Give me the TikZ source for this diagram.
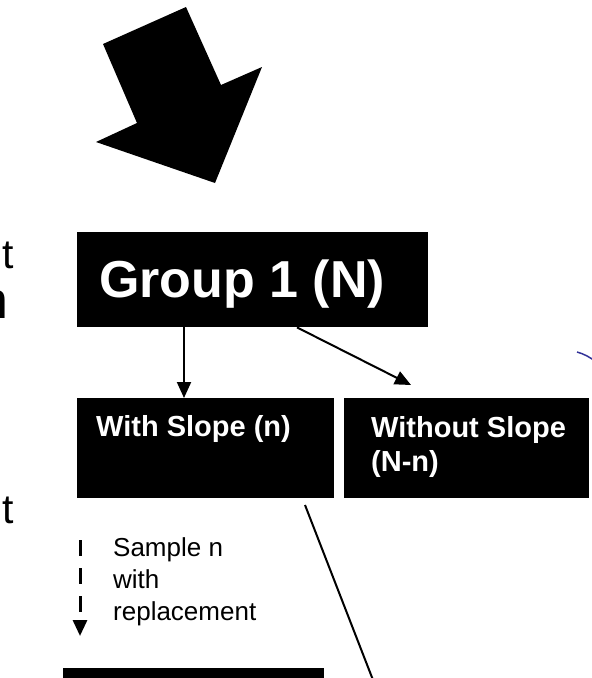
\documentclass[tikz,border=0pt]{standalone}
\usepackage{fontspec}
\setmainfont{Liberation Sans}
\usetikzlibrary{arrows.meta}

\definecolor{curveblue}{RGB}{51,51,153}

\tikzset{
  blackbox/.style={fill=black, draw=none, inner sep=0pt, anchor=north west},
  boxlabel/.style={text=white, font=\bfseries\fontsize{29}{34}\selectfont, anchor=base west, inner sep=0pt, align=left},
  sidelabel/.style={font=\fontsize{26}{32}\selectfont, anchor=base west, inner sep=0pt, align=left},
  cuttext/.style={font=\fontsize{41}{49}\selectfont, anchor=base east, inner sep=0pt},
  arr/.style={line width=2pt, -{Triangle[width=14pt,length=16pt]}},
}

\begin{document}
\begin{tikzpicture}[x=1pt, y=-1pt]
 \useasboundingbox (0,0) rectangle (592,678);
 \clip (0,0) rectangle (592,678);

 % big block arrow
 \fill (103,44) -- (186,7) -- (221,85) -- (262,67) -- (215,183) -- (96,142) -- (137,123) -- cycle;

 % text running in from the left
 \node[cuttext] (cut1) at (14,268) {t};
 \node[cuttext, font=\fontsize{52}{60}\selectfont] (cut2) at (9,318) {n};
 \node[cuttext] (cut3) at (14,523) {t};

 % boxes
 \node[blackbox, minimum width=351pt, minimum height=95pt] (group) at (77,232) {};
 \node[blackbox, minimum width=257pt, minimum height=100pt] (with) at (77,398) {};
 \node[blackbox, minimum width=245pt, minimum height=100pt] (without) at (344,398) {};
 \node[blackbox, minimum width=261pt, minimum height=40pt] (sample) at (63,668) {};

 \node[boxlabel, font=\bfseries\fontsize{52}{60}\selectfont] (grouptext) at (99,297) {Group 1 (N)};
 \node[boxlabel] (withtext) at (96,436) {With Slope (n)};
 \node[boxlabel] (withouttext) at (371,471) {Without Slope\\(N-n)};
 \node[sidelabel] (sampletext) at (113,620) {Sample n\\with\\replacement};

 % connectors
 \coordinate (gap) at (411,385);
 \coordinate (dashtop) at (80,540);
 \coordinate (dashend) at (80,636);
 \coordinate (slantstart) at (305,505);
 \coordinate (slantend) at (373,680);

 \draw[arr] ([xshift=107pt]group.south west) -- ([xshift=107pt]with.north west);
 \draw[arr] ([xshift=220pt]group.south west) -- (gap);
 \draw[arr, line width=3pt, dash pattern=on 16pt off 12pt] (dashtop) -- (dashend);
 \draw[line width=2pt] (slantstart) -- (slantend);

 % stray curve at the right edge
 \draw[curveblue, line width=1.5pt] (577,352) .. controls (584,354) and (590,357) .. (596,362);
\end{tikzpicture}
\end{document}
